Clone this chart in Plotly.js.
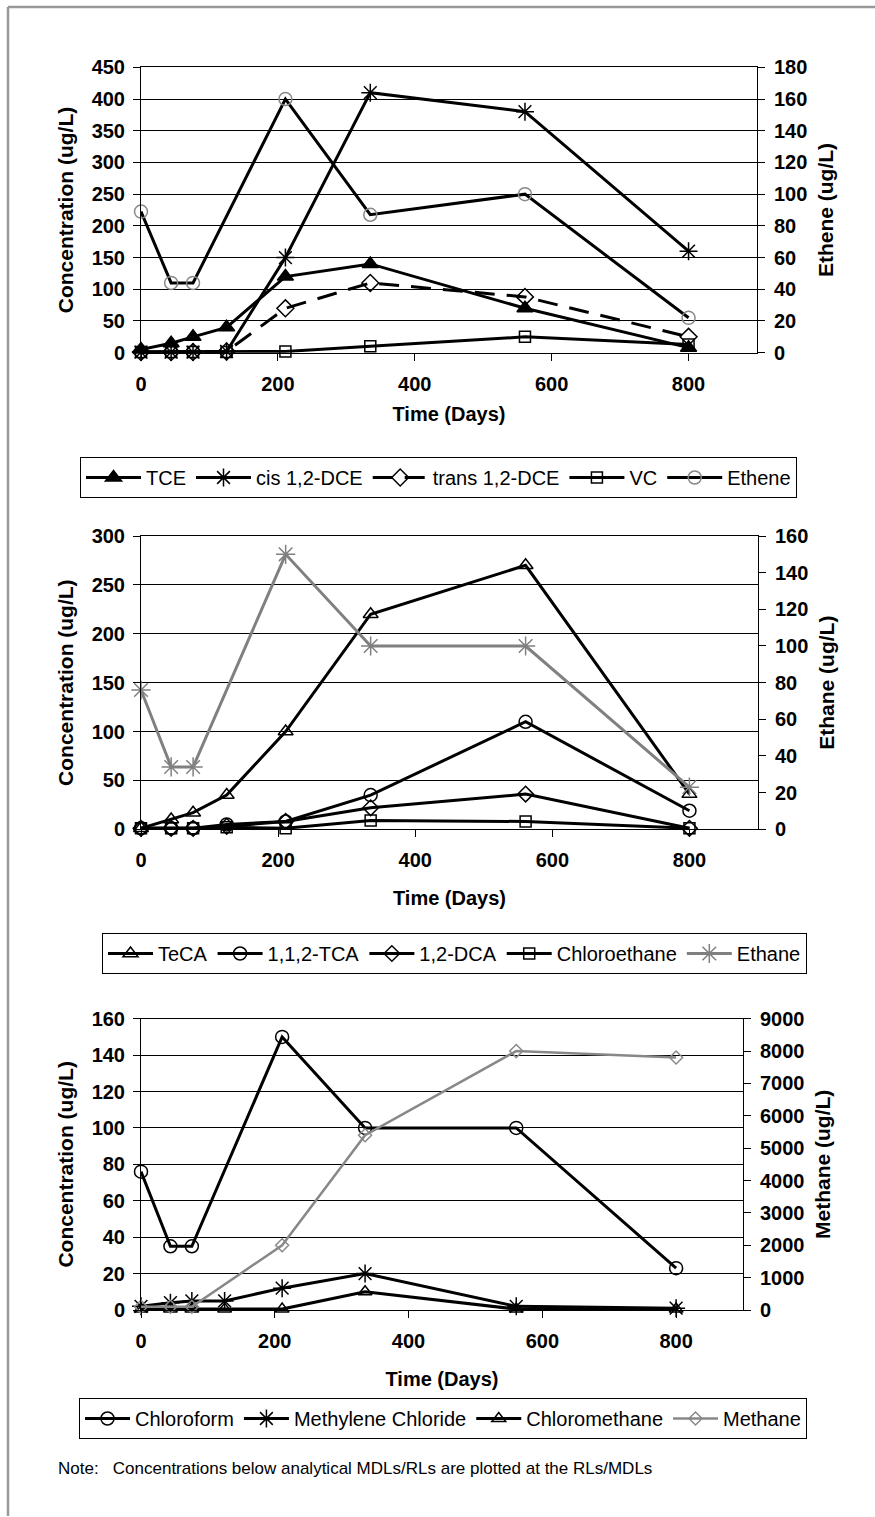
<!DOCTYPE html>
<html><head><meta charset="utf-8">
<script src="https://cdn.plot.ly/plotly-3.0.1.min.js"></script>
<style>html,body{margin:0;padding:0;background:#fff}#chart{width:875px;height:1517px}</style>
</head><body><div id="chart"></div>
<script>
// ---------- data ----------
const days = [0, 44, 76, 125, 211, 335, 561, 800];
const xTicks = [0, 200, 400, 600, 800];

// Chart 1 (ug/L)
const tce       = [5, 15, 25, 40, 120, 140, 70, 8];
const cisDCE    = [1, 1, 1, 2, 150, 410, 380, 160];
const transDCE  = [1, 1, 1, 2, 70, 110, 88, 25];
const vc        = [1, 1, 1, 1, 2, 10, 25, 13];
const ethene    = [89, 44, 44, null, 160, 87, 100, 22];

// Chart 2 (ug/L)
const teca      = [1, 10, 17, 35, 100, 220, 270, 36];
const tca112    = [1, 1, 1, 5, 8, 35, 110, 19];
const dca12     = [1, 1, 1, 3, 8, 22, 36, 1];
const chloroeth = [1, 1, 1, 2, 1, 9, 8, 1];
const ethane    = [76, 34, 34, null, 150, 100, 100, 23];

// Chart 3 (ug/L)
const chloroform = [76, 35, 35, null, 150, 100, 100, 23];
const methCl     = [2, 4, 5, 5, 12, 20, 2, 1];
const chlorometh = [0.5, 0.5, 0.5, 0.5, 0.5, 10, 0.5, 0.5];
const methane    = [100, 100, 100, null, 2000, 5400, 8000, 7800];

// ---------- layout helpers ----------
const W = 875, H = 1517;
const FONT = 'Liberation Sans, Arial, Helvetica, sans-serif';
const fx = px => px / W;
const fy = px => 1 - px / H;
const TICKFONT = {family: FONT, size: 20, weight: 'bold', color: '#000'};
const TITLEFONT = {family: FONT, size: 21, weight: 'bold', color: '#000'};

function xAxis(x0, x1, anchor, standoff) {
  return {
    domain: [fx(x0), fx(x1)], anchor: anchor, range: [0, 900],
    tickvals: xTicks, ticks: 'outside', ticklen: 7, tickcolor: '#000', tickwidth: 1,
    ticklabelstandoff: 6,
    showline: true, linecolor: '#000', linewidth: 1, mirror: true,
    showgrid: false, zeroline: false,
    tickfont: TICKFONT,
    title: {text: 'Time (Days)', font: {family: FONT, size: 20, weight: 'bold', color: '#000'}, standoff: standoff}
  };
}
function yLeft(y0, y1, anchor, max, dtick) {
  return {
    domain: [fy(y1), fy(y0)], anchor: anchor, range: [0, max], dtick: dtick, tick0: 0,
    ticks: 'outside', ticklen: 7, tickcolor: '#000', tickwidth: 1,
    ticklabelstandoff: 4,
    showline: true, linecolor: '#000', linewidth: 1,
    showgrid: true, gridcolor: '#000', gridwidth: 1, zeroline: false,
    tickfont: TICKFONT,
    title: {text: 'Concentration (ug/L)', font: TITLEFONT, standoff: 12}
  };
}
function yRight(overlay, anchor, max, dtick, title) {
  return {
    overlaying: overlay, anchor: anchor, side: 'right', range: [0, max], dtick: dtick, tick0: 0,
    ticks: 'outside', ticklen: 7, tickcolor: '#000', tickwidth: 1,
    ticklabelstandoff: 5,
    showline: true, linecolor: '#000', linewidth: 1,
    showgrid: false, zeroline: false,
    tickfont: TICKFONT,
    title: {text: title, font: TITLEFONT, standoff: 11}
  };
}
function legendAt(x, y, itemwidth) {
  return {
    orientation: 'h', x: fx(x), xanchor: 'left', y: fy(y), yanchor: 'top',
    bordercolor: '#000', borderwidth: 1, bgcolor: '#fff',
    font: {family: FONT, size: 20, color: '#000'}, itemwidth: itemwidth, traceorder: 'normal'
  };
}
function tr(y, name, xa, ya, leg, lineColor, sym, mColor, size, extra) {
  const t = {
    type: 'scatter', mode: 'lines+markers', x: days, y: y, name: name,
    xaxis: xa, yaxis: ya, legend: leg, connectgaps: true, cliponaxis: false,
    line: {color: lineColor, width: 3},
    marker: {symbol: sym, size: size, color: mColor, line: {color: mColor, width: 1.5}}
  };
  return Object.assign(t, extra || {});
}

const data = [
  tr(tce, 'TCE', 'x', 'y', 'legend', '#000', 'triangle-up', '#000', 14),
  tr(cisDCE, 'cis 1,2-DCE', 'x', 'y', 'legend', '#000', 'asterisk-open', '#000', 15),
  tr(transDCE, 'trans 1,2-DCE', 'x', 'y', 'legend', '#000', 'diamond-open', '#000', 13,
     {line: {color: '#000', width: 3, dash: '20px,12px'}}),
  tr(vc, 'VC', 'x', 'y', 'legend', '#000', 'square-open', '#000', 11),
  tr(ethene, 'Ethene', 'x', 'y2', 'legend', '#000', 'circle-open', '#888', 13),

  tr(teca, 'TeCA', 'x2', 'y3', 'legend2', '#000', 'triangle-up-open', '#000', 13),
  tr(tca112, '1,1,2-TCA', 'x2', 'y3', 'legend2', '#000', 'circle-open', '#000', 13),
  tr(dca12, '1,2-DCA', 'x2', 'y3', 'legend2', '#000', 'diamond-open', '#000', 12),
  tr(chloroeth, 'Chloroethane', 'x2', 'y3', 'legend2', '#000', 'square-open', '#000', 11),
  tr(ethane, 'Ethane', 'x2', 'y4', 'legend2', '#808080', 'asterisk-open', '#808080', 16),

  tr(chloroform, 'Chloroform', 'x3', 'y5', 'legend3', '#000', 'circle-open', '#000', 13),
  tr(methCl, 'Methylene Chloride', 'x3', 'y5', 'legend3', '#000', 'asterisk-open', '#000', 15),
  tr(chlorometh, 'Chloromethane', 'x3', 'y5', 'legend3', '#000', 'triangle-up-open', '#000', 12),
  tr(methane, 'Methane', 'x3', 'y6', 'legend3', '#888', 'diamond-open', '#888', 10,
     {line: {color: '#888', width: 2.5}})
];

const layout = {
  width: W, height: H, margin: {l: 0, r: 0, t: 0, b: 0},
  paper_bgcolor: '#fff', plot_bgcolor: '#fff',
  font: {family: FONT, color: '#000'},
  xaxis: xAxis(141, 757, 'y', 13),
  yaxis: yLeft(67.3, 352.7, 'x', 450, 50),
  yaxis2: yRight('y', 'x', 180, 20, 'Ethene (ug/L)'),
  xaxis2: xAxis(141, 758, 'y3', 20),
  yaxis3: yLeft(536, 829.3, 'x2', 300, 50),
  yaxis4: yRight('y3', 'x2', 160, 20, 'Ethane (ug/L)'),
  xaxis3: xAxis(141, 743, 'y5', 20),
  yaxis5: yLeft(1018.7, 1310, 'x3', 160, 20),
  yaxis6: yRight('y5', 'x3', 9000, 1000, 'Methane (ug/L)'),
  legend: legendAt(80, 457, 55),
  legend2: legendAt(102, 933, 45),
  legend3: legendAt(79, 1398, 45),
  shapes: [
    {type: 'line', xref: 'paper', yref: 'paper', x0: fx(8), x1: 1, y0: fy(7), y1: fy(7), line: {color: '#999', width: 2.5}},
    {type: 'line', xref: 'paper', yref: 'paper', x0: fx(8), x1: fx(8), y0: fy(7), y1: fy(1516), line: {color: '#999', width: 2.5}}
  ],
  annotations: [
    {xref: 'paper', yref: 'paper', x: fx(56), y: fy(1468), xanchor: 'left', yanchor: 'middle', showarrow: false,
     text: 'Note:   Concentrations below analytical MDLs/RLs are plotted at the RLs/MDLs',
     font: {family: FONT, size: 17, color: '#000'}}
  ]
};

Plotly.newPlot('chart', data, layout, {staticPlot: true, displayModeBar: false});
</script></body></html>
